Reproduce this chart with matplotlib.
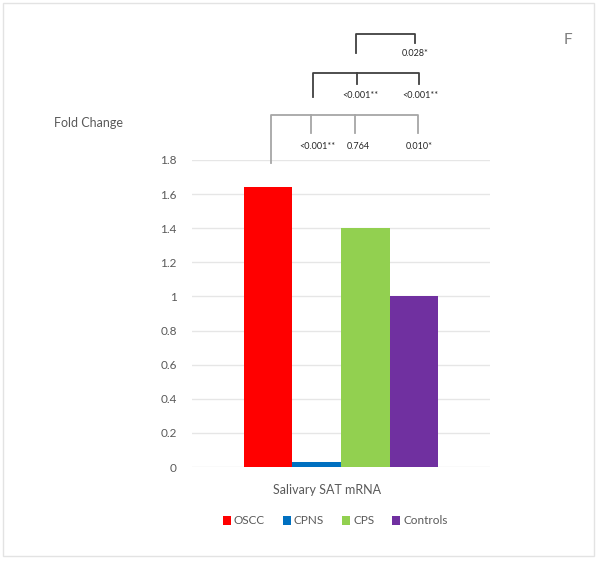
import matplotlib
matplotlib.use("Agg")
import matplotlib.pyplot as plt
from matplotlib.patches import Rectangle, Patch

plt.rcParams['font.family'] = ['Lato', 'DejaVu Sans']

categories = ["OSCC", "CPNS", "CPS", "Controls"]
values = [1.64, 0.03, 1.40, 1.00]
colors = ["#ff0000", "#0070c0", "#92d050", "#7030a0"]
yticks = [0, 0.2, 0.4, 0.6, 0.8, 1, 1.2, 1.4, 1.6, 1.8]
ytick_labels = ["0", "0.2", "0.4", "0.6", "0.8", "1", "1.2", "1.4", "1.6", "1.8"]
group_label = "Salivary SAT mRNA"
pvals_bottom = ["<0.001**", "0.764", "0.010*"]
pvals_middle = ["<0.001**", "<0.001**"]
pvals_top = ["0.028*"]

W, H = 601, 561
fig = plt.figure(figsize=(W / 100, H / 100), dpi=100)

def fx(px):
    return px / W

def fy(py):
    return 1 - py / H

ax = fig.add_axes([fx(192), fy(467), (490 - 192) / W, (467 - 160) / H])
xpos = [-1.5, -0.5, 0.5, 1.5]
for x, v, c, lab in zip(xpos, values, colors, categories):
    ax.bar(x, v, width=1.0, color=c, label=lab, zorder=3)
ax.set_xlim(-3.07, 3.07)
ax.set_ylim(0, 1.8)
ax.set_yticks(yticks)
ax.set_yticklabels(ytick_labels)
ax.set_xticks([])
ax.tick_params(axis='y', length=0, pad=11, labelsize=8.5, labelcolor="#595959")
for s in ax.spines.values():
    s.set_visible(False)
ax.grid(axis='y', color="#e6e6e6", linewidth=1, zorder=0)
ax.set_axisbelow(True)

# group label
fig.text(fx(327), fy(490), group_label, ha='center', va='center', fontsize=9, color="#595959")

# legend
handles = [Patch(facecolor=c, label=l) for c, l in zip(colors, categories)]
fig.legend(handles=handles, loc='center', bbox_to_anchor=(fx(335), fy(521)), ncol=4,
           frameon=False, fontsize=8.5, handlelength=0.7, handleheight=0.7,
           handletextpad=0.25, columnspacing=1.5, labelcolor="#595959")

# y label
fig.text(fx(54), fy(123), "Fold Change", ha='left', va='center', fontsize=9, color="#595959")
# panel letter
fig.text(fx(568), fy(40), "F", ha='center', va='center', fontsize=11, color="#7f7f7f")

# brackets (figure pixel coordinates)
def line(xs, ys, color, lw=1.3):
    fig.add_artist(plt.Line2D([fx(x) for x in xs], [fy(y) for y in ys], color=color, lw=lw))

light = "#a6a6a6"
dark = "#404040"
# bottom bracket
line([271, 271, 418, 418], [163, 115, 115, 133], light)
line([311, 311], [115, 133], light)
line([355, 355], [115, 133], light)
# middle bracket
line([313, 313, 419, 419], [97, 73, 73, 84], dark)
line([357, 357], [73, 84], dark)
# top bracket
line([356, 356, 415, 415], [53, 34, 34, 43], dark)

tk = dict(ha='center', va='center', fontsize=6.5, color="#262626")
for x, t in zip([317, 358, 419], pvals_bottom):
    fig.text(fx(x), fy(147), t, **tk)
for x, t in zip([360, 420], pvals_middle):
    fig.text(fx(x), fy(95), t, **tk)
for x, t in zip([415], pvals_top):
    fig.text(fx(x), fy(54), t, **tk)

# outer border
fig.add_artist(Rectangle((fx(2.5), fy(556)), fx(591), (556 - 2.5) / H, fill=False,
                         edgecolor="#e3e3e3", lw=1))

fig.savefig("out.png", dpi=100)
